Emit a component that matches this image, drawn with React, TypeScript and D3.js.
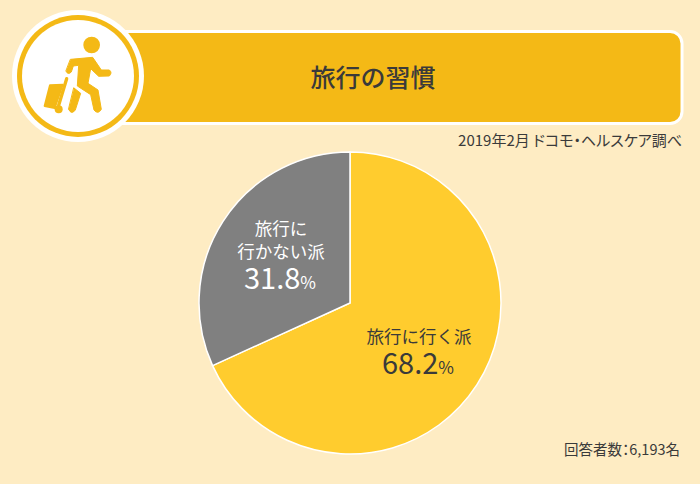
import React from 'react';
import * as d3 from 'd3';

const categories = ['旅行に行く派', '旅行に行かない派'];
const shares = [68.2, 31.8];
const colors = ['#ffcc2e', '#808080'];

const title = '旅行の習慣';
const source = '2019年2月 ドコモ・ヘルスケア調べ';
const respondents = '回答者数：6,193名';

const W = 700;
const H = 484;
const FONT = '"Noto Sans CJK JP", "Noto Sans", sans-serif';
const AMBER = '#f4b916';
const DARK = '#3a3a3a';
const PALT = { fontFeatureSettings: '"palt"' };

function TravelIcon() {
  return (
    <g>
      <circle cx={78} cy={76} r={66} fill="#fff" />
      <circle cx={78} cy={76} r={61} fill={AMBER} />
      <circle cx={78} cy={76} r={56} fill="#fff" />
      {/* traced at 3x, hence the scale */}
      <g transform="scale(0.3333)" fill={AMBER} stroke={AMBER} strokeLinecap="round" strokeLinejoin="round">
        <circle cx={275} cy={135} r={25} stroke="none" />
        <path
          d="M212,178 L278,172 L304,210 L328,210 Q338,218 328,228 L296,229 L272,206 L264,250 L294,270 L304,328 Q294,345 282,330 L272,284 L232,258 L236,196 L220,198 L214,216 Q204,226 198,214 Z"
          strokeWidth={3}
        />
        <path d="M222,264 L242,280 L226,330 Q214,346 206,328 Z" strokeWidth={3} />
        <path d="M150,256 L188,254 L164,324 L134,318 Z" strokeWidth={6} />
        <path d="M200,236 L176,316" fill="none" strokeWidth={10} />
        <circle cx={176} cy={328} r={12} stroke="none" />
      </g>
    </g>
  );
}

function Pie() {
  const cx = 350;
  const cy = 303;
  const radius = 151;
  const slices = d3.pie<number>().sort(null)(shares);
  const arc = d3.arc<d3.PieArcDatum<number>>().innerRadius(0).outerRadius(radius);
  return (
    <g transform={`translate(${cx},${cy})`}>
      {slices.map((s, i) => (
        <path key={categories[i]} d={arc(s) ?? ''} fill={colors[i]} stroke="#fff" strokeWidth={1.5} />
      ))}
    </g>
  );
}

function Pct({ x, y, value, fill }: { x: number; y: number; value: number; fill: string }) {
  return (
    <text x={x} y={y} textAnchor="middle" fill={fill} fontFamily={FONT}>
      <tspan fontSize={29}>{value.toFixed(1)}</tspan>
      <tspan fontSize={17}>%</tspan>
    </text>
  );
}

export default function App() {
  return (
    <svg width={W} height={H} style={{ position: 'absolute', left: 0, top: 0 }}>
      <rect width={W} height={H} fill="#feecc3" />

      <rect x={100} y={31.5} width={582} height={92} rx={12} fill={AMBER} stroke="#fff" strokeWidth={3} />
      <TravelIcon />
      <text x={373} y={87} textAnchor="middle" fontSize={25} fill={DARK} fontFamily={FONT} fontWeight={500}>
        {title}
      </text>
      <text x={682} y={146} textAnchor="end" fontSize={15} fill={DARK} fontFamily={FONT} style={PALT}>
        {source}
      </text>

      <Pie />

      <text x={419} y={343} textAnchor="middle" fontSize={17.5} fill={DARK} fontFamily={FONT}>
        {categories[0]}
      </text>
      <Pct x={418} y={374} value={shares[0]} fill={DARK} />

      <text x={281} y={235} textAnchor="middle" fontSize={17.5} fill="#fff" fontFamily={FONT}>
        旅行に
      </text>
      <text x={281} y={258} textAnchor="middle" fontSize={17.5} fill="#fff" fontFamily={FONT}>
        行かない派
      </text>
      <Pct x={280} y={289} value={shares[1]} fill="#fff" />

      <text x={680} y={455} textAnchor="end" fontSize={14.5} fill={DARK} fontFamily={FONT} style={PALT}>
        {respondents}
      </text>
    </svg>
  );
}
